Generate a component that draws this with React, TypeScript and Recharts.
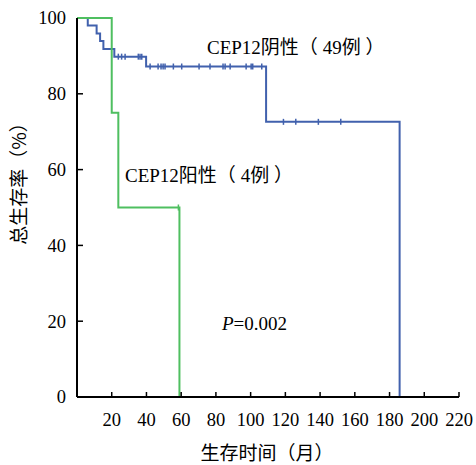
import React from 'react';
import { LineChart, Line, XAxis, YAxis } from 'recharts';

// CEP12 negative (49 cases): time in months, survival %, censored flag
const negTimes = [0, 6.2, 11.3, 13.3, 15.2, 21.5, 23.8, 25.7, 27.7, 35.3, 36.3, 37.3, 39.8, 42.1, 46.7, 48.4, 49.6, 50.7, 55.5, 60.3, 70.3, 76.6, 84.1, 85.3, 88.2, 97.4, 100.3, 101.2, 106.4, 108.9, 118.9, 126, 139, 151.9, 185.8];
const negSurvival = [100, 98.0, 95.9, 93.9, 91.8, 89.8, 89.8, 89.8, 89.8, 89.8, 89.8, 89.8, 87.2, 87.2, 87.2, 87.2, 87.2, 87.2, 87.2, 87.2, 87.2, 87.2, 87.2, 87.2, 87.2, 87.2, 87.2, 87.2, 87.2, 72.6, 72.6, 72.6, 72.6, 72.6, 0];
const negCensored = [0, 0, 0, 0, 0, 0, 1, 1, 1, 1, 1, 1, 0, 1, 1, 1, 1, 1, 1, 1, 1, 1, 1, 1, 1, 1, 1, 1, 1, 0, 1, 1, 1, 1, 0];

// CEP12 positive (4 cases)
const posTimes = [0, 20, 23.8, 58.4, 59];
const posSurvival = [100, 75, 50, 50, 0];
const posCensored = [0, 0, 0, 1, 0];

const xTicks = [0, 20, 40, 60, 80, 100, 120, 140, 160, 180, 200, 220];
const yTicks = [0, 20, 40, 60, 80, 100];

const BLUE = '#4161ad';
const GREEN = '#4fbf60';
const SERIF = '"Liberation Serif", "Noto Sans CJK SC", serif';
const CJK = '"Noto Sans CJK SC", sans-serif';

const toRows = (t: number[], s: number[], c: number[]) =>
  t.map((v, i) => ({ t: v, s: s[i], c: c[i] }));

const negData = toRows(negTimes, negSurvival, negCensored);
const posData = toRows(posTimes, posSurvival, posCensored);

const censorDot = (color: string) => (props: any) => {
  const { cx, cy, payload, index } = props;
  if (!payload || !payload.c) return <g key={index} />;
  return <line key={index} x1={cx} x2={cx} y1={cy - 3} y2={cy + 3} stroke={color} strokeWidth={1.5} />;
};

const Y_MARGIN = 11;
const X_MARGIN = 16;

const YTick = (props: any) => {
  const { x, y, payload } = props;
  const ax = x + Y_MARGIN;
  return (
    <g>
      {payload.value !== 0 && payload.value !== 100 && (
        <line x1={ax} x2={ax + 6} y1={y} y2={y} stroke="#000" strokeWidth={1.5} />
      )}
      <text x={x} y={y} dy="0.35em" textAnchor="end" fontFamily={SERIF} fontSize={18.5} fill="#000">
        {payload.value}
      </text>
    </g>
  );
};

const XTick = (props: any) => {
  const { x, y, payload } = props;
  if (payload.value === 0) return <g />;
  const ay = y - X_MARGIN;
  return (
    <g>
      <line x1={x} x2={x} y1={ay} y2={ay - 5} stroke="#000" strokeWidth={1.5} />
      <text x={x} y={y} dy="0.71em" textAnchor="middle" fontFamily={SERIF} fontSize={18.5} fill="#000">
        {payload.value}
      </text>
    </g>
  );
};

export default function App() {
  return (
    <div style={{ position: 'absolute', left: 0, top: 0, background: '#fff' }}>
      <LineChart width={476} height={465} margin={{ top: 18, right: 17, bottom: 0, left: 0 }}>
        <XAxis
          type="number"
          dataKey="t"
          domain={[0, 220]}
          ticks={xTicks}
          interval={0}
          height={68}
          tickSize={0}
          tickMargin={X_MARGIN}
          tick={<XTick />}
          axisLine={{ stroke: '#000', strokeWidth: 2 }}
          allowDuplicatedCategory={false}
        />
        <YAxis
          type="number"
          domain={[0, 100]}
          ticks={yTicks}
          interval={0}
          width={77}
          tickSize={0}
          tickMargin={Y_MARGIN}
          tick={<YTick />}
          axisLine={{ stroke: '#000', strokeWidth: 2 }}
        />
        <Line
          data={negData}
          dataKey="s"
          type="stepAfter"
          stroke={BLUE}
          strokeWidth={2}
          dot={censorDot(BLUE)}
          activeDot={false}
          isAnimationActive={false}
        />
        <Line
          data={posData}
          dataKey="s"
          type="stepAfter"
          stroke={GREEN}
          strokeWidth={2}
          dot={censorDot(GREEN)}
          activeDot={false}
          isAnimationActive={false}
        />
        <text x={207} y={54} fontFamily={SERIF} fontSize={19} fill="#000">
          CEP12<tspan fontFamily={CJK}>阴性（</tspan> 49<tspan fontFamily={CJK}>例</tspan> <tspan fontFamily={CJK}>）</tspan>
        </text>
        <text x={125} y={182} fontFamily={SERIF} fontSize={19} fill="#000">
          CEP12<tspan fontFamily={CJK}>阳性（</tspan> 4<tspan fontFamily={CJK}>例</tspan> <tspan fontFamily={CJK}>）</tspan>
        </text>
        <text x={222} y={330} fontFamily={SERIF} fontSize={19} fill="#000">
          <tspan fontStyle="italic">P</tspan>=0.002
        </text>
        <text x={267} y={460} textAnchor="middle" fontFamily={CJK} fontSize={19} fill="#000">
          生存时间（月）
        </text>
        <text
          x={17}
          y={179}
          textAnchor="middle"
          dominantBaseline="central"
          transform="rotate(-90 17 179)"
          fontFamily={CJK}
          fontSize={19}
          fill="#000"
        >
          总生存率（%）
        </text>
      </LineChart>
    </div>
  );
}
